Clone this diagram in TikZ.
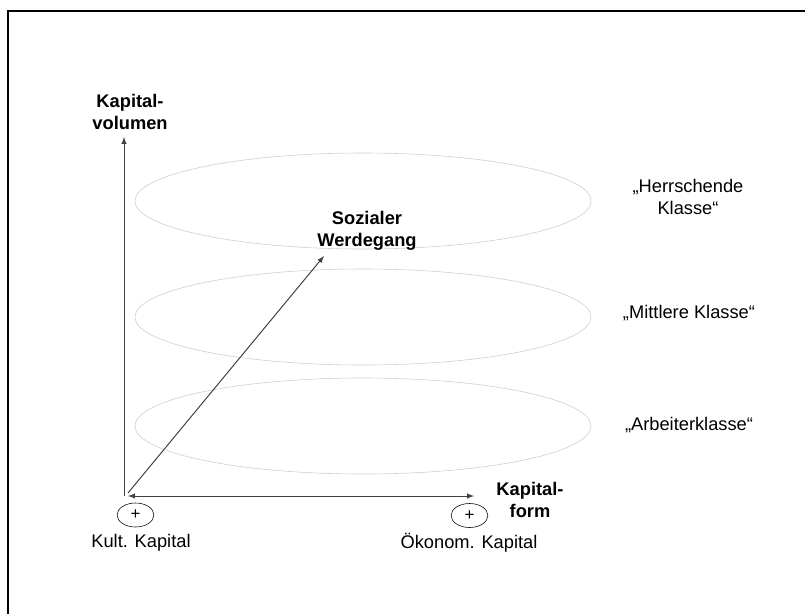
\documentclass[tikz,border=0pt]{standalone}
\usepackage{fontspec}
\setmainfont{Liberation Sans}
\usepackage{tikz}
\usetikzlibrary{shapes,arrows}

\begin{document}
\begin{tikzpicture}[x=0.025cm, y=-0.025cm, thick, >=latex,
  txt/.style={align=center, inner sep=0pt, font=\fontsize{13}{15.5}\selectfont},
  bold/.style={txt, font=\fontsize{13}{15.5}\selectfont\bfseries},
  klasse/.style={draw=gray!40, thin, ellipse, minimum width=11.4cm, minimum height=2.4cm},
  plus/.style={draw, thin, ellipse, inner sep=0pt, minimum width=0.92cm, minimum height=0.6cm, font=\fontsize{12}{14}\selectfont},
  axis/.style={color=black!75, line width=0.7pt}]

\useasboundingbox (0,0) rectangle (805,614);

% frame (only left and top edge visible)
\draw [line width=1.5pt] (8,614) -- (8,11) -- (805,11);

% class ellipses
\node[klasse] (K1) at (363,201) {};
\node[klasse] (K2) at (363,317) {};
\node[klasse] (K3) at (363,426) {};

\node[txt] (H) at (688,197) {„Herrschende\\Klasse“};
\node[txt] (M) at (689,313) {„Mittlere Klasse“};
\node[txt] (A) at (689,425) {„Arbeiterklasse“};

% axes
\coordinate (O) at (124,496);
\coordinate (Vtop) at (124,137);
\coordinate (Hstart) at (128,496);
\coordinate (Hend) at (474,496);
\coordinate (D0) at (128,493);
\coordinate (D1) at (324,256);

\draw[axis, ->] (O) -- (Vtop);
\draw[axis, <->] (Hstart) -- (Hend);
\draw[axis, ->] (D0) -- (D1);

\node[bold] (KV) at (130,112) {Kapital-\\volumen};
\node[bold] (SW) at (367,231) {Sozialer\\Werdegang};
\node[bold] (KF) at (530,500) {Kapital-\\form};

% capital forms
\node[plus] (P1) at (135.5,515) {+};
\node[plus] (P2) at (469.5,515.5) {+};
\node[txt] (KK) at (141,543) {Kult. Kapital};
\node[txt] (OK) at (469,543) {Ökonom. Kapital};

\end{tikzpicture}
\end{document}
